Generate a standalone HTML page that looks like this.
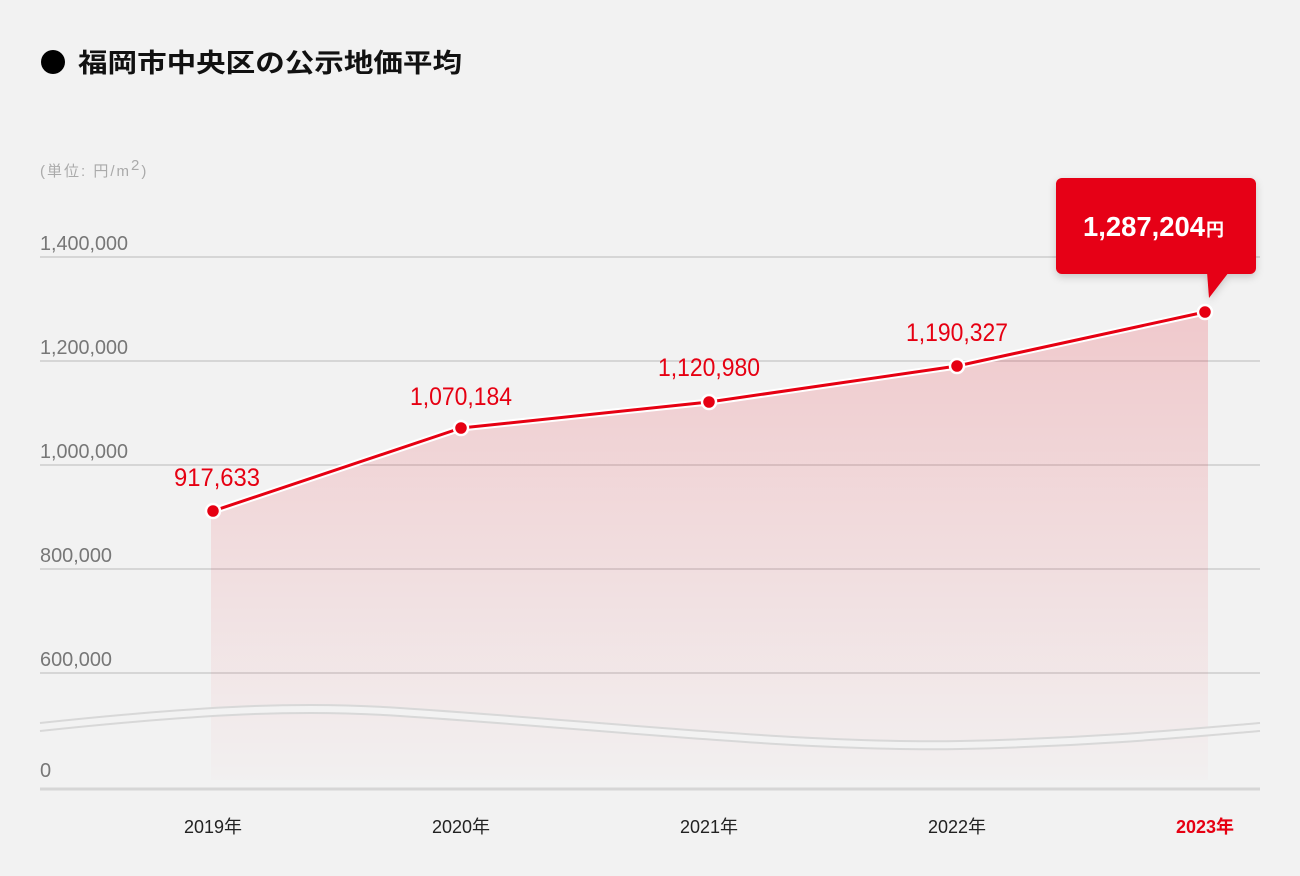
<!DOCTYPE html>
<html><head><meta charset="utf-8"><style>
body{margin:0;background:#f2f2f2;}
svg{display:block}
text{font-family:"Liberation Sans","Noto Sans CJK JP",sans-serif;}
</style></head><body>
<svg width="1300" height="876" viewBox="0 0 1300 876" xmlns="http://www.w3.org/2000/svg">
<defs>
<linearGradient id="g" x1="0" y1="0" x2="0" y2="1">
<stop offset="0" stop-color="#e60012" stop-opacity="0.17"/>
<stop offset="1" stop-color="#e60012" stop-opacity="0.01"/>
</linearGradient>
<filter id="sh" x="-20%" y="-20%" width="140%" height="150%"><feDropShadow dx="0" dy="3" stdDeviation="4" flood-opacity="0.18"/></filter>
</defs>
<rect width="1300" height="876" fill="#f2f2f2"/>
<circle cx="53" cy="62" r="12" fill="#000"/>
<text x="78" y="72" font-size="26" font-weight="bold" fill="#111" textLength="384" lengthAdjust="spacingAndGlyphs">福岡市中央区の公示地価平均</text>
<text x="40" y="176" font-size="15" fill="#aaa" letter-spacing="2">(単位: 円/m<tspan dy="-6" font-size="15">2</tspan><tspan dy="6">)</tspan></text>
<g stroke="#d6d6d6" stroke-width="2">
<line x1="40" y1="257" x2="1260" y2="257"/><line x1="40" y1="361" x2="1260" y2="361"/>
<line x1="40" y1="465" x2="1260" y2="465"/><line x1="40" y1="569" x2="1260" y2="569"/>
<line x1="40" y1="673" x2="1260" y2="673"/>
</g>
<g font-size="20" fill="#777">
<text x="40" y="250" textLength="88" lengthAdjust="spacingAndGlyphs">1,400,000</text><text x="40" y="354" textLength="88" lengthAdjust="spacingAndGlyphs">1,200,000</text>
<text x="40" y="458" textLength="88" lengthAdjust="spacingAndGlyphs">1,000,000</text><text x="40" y="562" textLength="72" lengthAdjust="spacingAndGlyphs">800,000</text>
<text x="40" y="666" textLength="72" lengthAdjust="spacingAndGlyphs">600,000</text><text x="40" y="777">0</text>
</g>
<path d="M211,511 L461,428 L709,402 L957,366 L1208,312 L1208,780 L211,780Z" fill="url(#g)"/>
<path d="M40,727 C200,710 300,705 400,712 C600,725 800,748 960,745 C1100,742 1200,732 1260,727" fill="none" stroke="#f2f2f2" stroke-width="8"/>
<path d="M40,723 C200,706 300,701 400,708 C600,721 800,744 960,741 C1100,738 1200,728 1260,723" fill="none" stroke="#d8d8d8" stroke-width="2"/>
<path d="M40,731 C200,714 300,709 400,716 C600,729 800,752 960,749 C1100,746 1200,736 1260,731" fill="none" stroke="#d8d8d8" stroke-width="2"/>
<line x1="40" y1="789" x2="1260" y2="789" stroke="#d6d6d6" stroke-width="3"/>
<polyline points="213,511 461,428 709,402 957,366 1205,312" fill="none" stroke="#fff" stroke-width="7" stroke-linejoin="round"/>
<polyline points="213,511 461,428 709,402 957,366 1205,312" fill="none" stroke="#e60012" stroke-width="3" stroke-linejoin="round"/>
<g fill="#e60012" stroke="#fff" stroke-width="2.5">
<circle cx="213" cy="511" r="7"/><circle cx="461" cy="428" r="7"/><circle cx="709" cy="402" r="7"/><circle cx="957" cy="366" r="7"/><circle cx="1205" cy="312" r="7"/>
</g>
<g font-size="25" fill="#e60012" text-anchor="middle">
<text x="217" y="486" textLength="86" lengthAdjust="spacingAndGlyphs">917,633</text>
<text x="461" y="405" textLength="102" lengthAdjust="spacingAndGlyphs">1,070,184</text>
<text x="709" y="376" textLength="102" lengthAdjust="spacingAndGlyphs">1,120,980</text>
<text x="957" y="341" textLength="102" lengthAdjust="spacingAndGlyphs">1,190,327</text>
</g>
<g filter="url(#sh)">
<rect x="1056" y="178" width="200" height="96" rx="6" fill="#e60012"/>
<path d="M1207,272 L1229,272 L1209,298Z" fill="#e60012"/>
</g>
<text x="1083" y="236" font-size="28" font-weight="bold" fill="#fff" textLength="122" lengthAdjust="spacingAndGlyphs">1,287,204</text>
<text x="1206" y="236" font-size="18" font-weight="bold" fill="#fff">円</text>
<g font-size="18" fill="#222" text-anchor="middle">
<text x="213" y="833">2019年</text><text x="461" y="833">2020年</text><text x="709" y="833">2021年</text><text x="957" y="833">2022年</text>
<text x="1205" y="833" fill="#e60012" font-weight="bold">2023年</text>
</g>
</svg>
</body></html>
